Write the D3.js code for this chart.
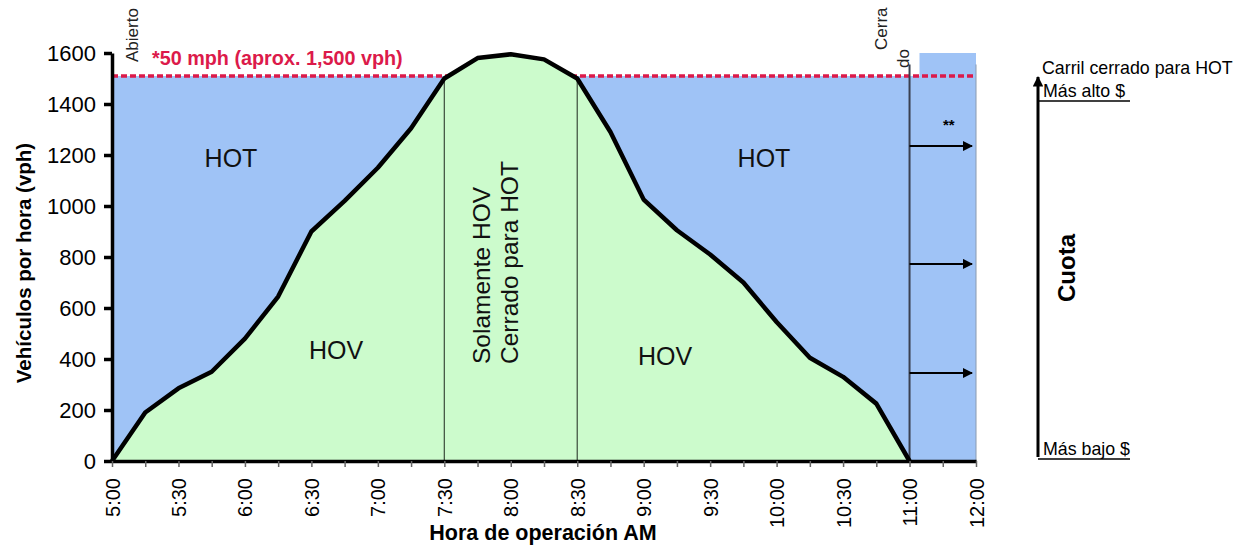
<!DOCTYPE html>
<html>
<head>
<meta charset="utf-8">
<script src="https://cdn.jsdelivr.net/npm/d3@7"></script>
<style>
  body { margin: 0; background: #fff; }
  svg { font-family: "Liberation Sans", Arial, sans-serif; }
</style>
</head>
<body>
<div id="container"></div>
<script>
// chart data
const times = ["5:00", "5:15", "5:30", "5:45", "6:00", "6:15", "6:30", "6:45",
               "7:00", "7:15", "7:30", "7:45", "8:00", "8:15", "8:30", "8:45",
               "9:00", "9:15", "9:30", "9:45", "10:00", "10:15", "10:30", "10:45",
               "11:00", "11:30", "12:00"];
const timeLabels = ["5:00", "5:30", "6:00", "6:30", "7:00", "7:30", "8:00", "8:30",
                    "9:00", "9:30", "10:00", "10:30", "11:00", "12:00"];
// vehicles per hour, 5:00 .. 11:00 every 15 min
const volume = [0, 190, 285, 350, 480, 645, 900, 1020,
                1150, 1305, 1500, 1580, 1595, 1575, 1500, 1290,
                1025, 905, 810, 700, 545, 405, 330, 225, 0];
const yTicks = [0, 200, 400, 600, 800, 1000, 1200, 1400, 1600];
const capacity = 1510;         // *50 mph (aprox. 1,500 vph)
const hovOnly = ["7:30", "8:30"];
const closedAt = "11:00";
const endTime = "12:00";
const arrowLevels = [1235, 773, 345];

const width = 1238;
const height = 547;
const margin = {left: 112, right: 262, top: 53, bottom: 86};

const blue = "#9fc3f6";
const green = "#ccfbcc";
const red = "#dc1a4a";

const svg = d3.select("#container")
    .append("svg")
    .attr("width", width)
    .attr("height", height);

// scales
const x = d3.scalePoint()
    .domain(times)
    .range([margin.left, width - margin.right]);

const y = d3.scaleLinear()
    .domain([0, 1600])
    .range([height - margin.bottom, margin.top]);

// blue HOT region up to capacity
svg.append("path")
    .datum(times)
    .attr("fill", blue)
    .attr("d", d3.area()
        .x(d => x(d))
        .y0(y(0))
        .y1(y(capacity)));

// closed section box above the line
svg.append("rect")
    .attr("x", x(closedAt) + x.step() * 0.3)
    .attr("y", y(1600))
    .attr("width", x(endTime) - x(closedAt) - x.step() * 0.3)
    .attr("height", y(capacity) - y(1600))
    .attr("fill", blue);

svg.append("line")
    .attr("x1", x(endTime)).attr("x2", x(endTime))
    .attr("y1", y(1555)).attr("y2", y(0))
    .attr("stroke", "#8a9ab0")
    .attr("stroke-width", 1);

// red capacity line
svg.append("line")
    .attr("x1", x(times[0])).attr("x2", x(endTime))
    .attr("y1", y(capacity)).attr("y2", y(capacity))
    .attr("stroke", red)
    .attr("stroke-width", 3.5)
    .attr("stroke-dasharray", "6,3");

// green HOV region
const volTimes = times.slice(0, volume.length);
svg.append("path")
    .datum(volume)
    .attr("fill", green)
    .attr("d", d3.area()
        .x((d, i) => x(volTimes[i]))
        .y0(y(0))
        .y1(d => y(d)));

// HOV only lines
svg.selectAll(".hovline")
    .data(hovOnly)
    .enter()
    .append("line")
    .attr("class", "hovline")
    .attr("x1", d => x(d)).attr("x2", d => x(d))
    .attr("y1", d => y(volume[times.indexOf(d)]))
    .attr("y2", y(0))
    .attr("stroke", "#3a4a3a")
    .attr("stroke-width", 1.2);

// closed line
svg.append("line")
    .attr("x1", x(closedAt)).attr("x2", x(closedAt))
    .attr("y1", y(1555)).attr("y2", y(0))
    .attr("stroke", "#3a4050")
    .attr("stroke-width", 2);

// volume curve
svg.append("path")
    .datum(volume)
    .attr("fill", "none")
    .attr("stroke", "#000")
    .attr("stroke-width", 4.5)
    .attr("stroke-linejoin", "round")
    .attr("d", d3.line()
        .x((d, i) => x(volTimes[i]))
        .y(d => y(d)));

// arrow markers
const defs = svg.append("defs");
defs.append("marker")
    .attr("id", "head")
    .attr("viewBox", "0 0 10 10")
    .attr("refX", 9).attr("refY", 5)
    .attr("markerWidth", 4).attr("markerHeight", 3.5)
    .attr("markerUnits", "strokeWidth")
    .attr("orient", "auto")
    .append("path")
    .attr("d", "M0,0L10,5L0,10Z")
    .attr("fill", "#000");
defs.append("marker")
    .attr("id", "bighead")
    .attr("viewBox", "0 0 10 10")
    .attr("refX", 9).attr("refY", 5)
    .attr("markerWidth", 14).attr("markerHeight", 10)
    .attr("markerUnits", "userSpaceOnUse")
    .attr("orient", "auto")
    .append("path")
    .attr("d", "M0,0L10,5L0,10Z")
    .attr("fill", "#000");

svg.selectAll(".feearrow")
    .data(arrowLevels)
    .enter()
    .append("line")
    .attr("class", "feearrow")
    .attr("x1", x(closedAt))
    .attr("x2", x(endTime) - 4)
    .attr("y1", d => y(d)).attr("y2", d => y(d))
    .attr("stroke", "#000")
    .attr("stroke-width", 2)
    .attr("marker-end", "url(#bighead)");

svg.append("text")
    .attr("x", (x(closedAt) + x(endTime)) / 2 + 6)
    .attr("y", y(1300))
    .attr("text-anchor", "middle")
    .style("font-size", "15px")
    .style("font-weight", "bold")
    .text("**");

// y axis
const yAxis = svg.append("g")
    .attr("id", "y-axis")
    .attr("transform", `translate(${margin.left}, 0)`)
    .call(d3.axisLeft(y).tickValues(yTicks).tickFormat(d3.format("d"))
        .tickSize(8).tickSizeOuter(0).tickPadding(8));
yAxis.select(".domain").attr("stroke-width", 3.5);
yAxis.selectAll(".tick line").attr("stroke-width", 3.5);
yAxis.selectAll("text")
    .style("font-size", "22px")
    .attr("fill", "#000");

// x axis
const xAxis = svg.append("g")
    .attr("id", "x-axis")
    .attr("transform", `translate(0, ${y(0)})`)
    .call(d3.axisBottom(x).tickSize(6).tickSizeOuter(0));
xAxis.select(".domain").attr("stroke-width", 3.5);
xAxis.selectAll(".tick line").attr("stroke", "#666").attr("stroke-width", 1.5);
xAxis.selectAll("text")
    .text(d => timeLabels.includes(d) ? d : "")
    .attr("transform", "rotate(-90)")
    .attr("x", -17)
    .attr("y", 0)
    .attr("dy", "0.35em")
    .style("text-anchor", "end")
    .style("font-size", "20px")
    .attr("fill", "#000");

// axis titles
svg.append("text")
    .attr("transform", `translate(31, ${(y(0) + y(1600)) / 2 + 6}) rotate(-90)`)
    .attr("text-anchor", "middle")
    .style("font-size", "20.5px")
    .style("font-weight", "bold")
    .text("Vehículos por hora (vph)");

svg.append("text")
    .attr("x", 543)
    .attr("y", 540)
    .attr("text-anchor", "middle")
    .style("font-size", "21.5px")
    .style("font-weight", "bold")
    .text("Hora de operación AM");

// capacity label
svg.append("text")
    .attr("x", 152)
    .attr("y", 65)
    .attr("fill", red)
    .style("font-size", "19.8px")
    .style("font-weight", "bold")
    .text("*50 mph (aprox. 1,500 vph)");

// region labels
const regionLabel = (t, cx, cy) => svg.append("text")
    .attr("x", cx).attr("y", cy)
    .attr("text-anchor", "middle")
    .style("font-size", "25px")
    .attr("fill", "#111")
    .text(t);
regionLabel("HOT", 231, 167);
regionLabel("HOT", 764, 167);
regionLabel("HOV", 336, 359);
regionLabel("HOV", 665, 365);

svg.append("text")
    .attr("transform", "translate(490, 364) rotate(-90)")
    .style("font-size", "24.5px")
    .attr("fill", "#111")
    .text("Solamente HOV");
svg.append("text")
    .attr("transform", "translate(518, 364) rotate(-90)")
    .style("font-size", "24.5px")
    .attr("fill", "#111")
    .text("Cerrado para HOT");

// open / closed labels
svg.append("text")
    .attr("transform", "translate(138, 62) rotate(-90)")
    .style("font-size", "17px")
    .attr("fill", "#222")
    .text("Abierto");
svg.append("text")
    .attr("transform", "translate(887, 50) rotate(-90)")
    .style("font-size", "17px")
    .attr("fill", "#222")
    .text("Cerra");
svg.append("text")
    .attr("transform", "translate(909, 68) rotate(-90)")
    .style("font-size", "17px")
    .attr("fill", "#222")
    .text("do");

// fee scale on the right
const fee = svg.append("g");
fee.append("line")
    .attr("x1", 1038).attr("x2", 1038)
    .attr("y1", 457).attr("y2", 77)
    .attr("stroke", "#000")
    .attr("stroke-width", 3)
    .attr("marker-end", "url(#head)");
fee.append("text")
    .attr("x", 1042).attr("y", 74)
    .style("font-size", "17.8px")
    .text("Carril cerrado para HOT");
fee.append("text")
    .attr("x", 1043).attr("y", 97)
    .style("font-size", "17.8px")
    .text("Más alto $");
fee.append("line")
    .attr("x1", 1038).attr("x2", 1130)
    .attr("y1", 101).attr("y2", 101)
    .attr("stroke", "#000").attr("stroke-width", 1.5);
fee.append("text")
    .attr("x", 1043).attr("y", 455)
    .style("font-size", "17.8px")
    .text("Más bajo $");
fee.append("line")
    .attr("x1", 1038).attr("x2", 1130)
    .attr("y1", 459).attr("y2", 459)
    .attr("stroke", "#000").attr("stroke-width", 1.5);
fee.append("text")
    .attr("transform", "translate(1075, 268) rotate(-90)")
    .attr("text-anchor", "middle")
    .style("font-size", "24px")
    .style("font-weight", "bold")
    .text("Cuota");
</script>
</body>
</html>
